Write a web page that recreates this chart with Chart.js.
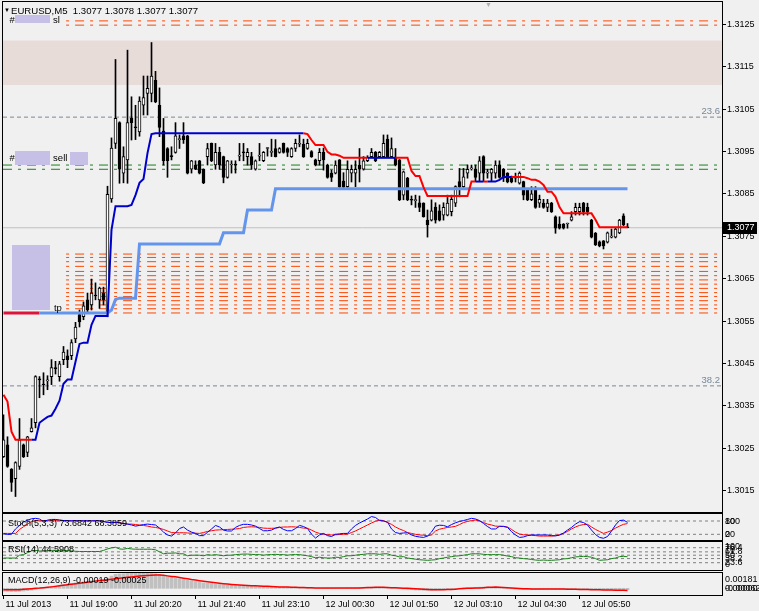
<!DOCTYPE html>
<html>
<head>
<meta charset="utf-8">
<title>EURUSD,M5</title>
<script src="https://cdn.jsdelivr.net/npm/chart.js@4.4.1/dist/chart.umd.min.js"></script>
<style>
  html, body { margin:0; padding:0; background:#f0f0f0; }
  #wrap { position:relative; width:759px; height:611px; overflow:hidden; background:#f0f0f0; }
  #wrap canvas { position:absolute; left:0; }
</style>
</head>
<body>
<div id="wrap">
  <canvas id="cMain" width="759" height="513" style="top:0px"></canvas>
  <canvas id="cStoch" width="759" height="28" style="top:513px"></canvas>
  <canvas id="cRsi" width="759" height="30" style="top:541px"></canvas>
  <canvas id="cMacd" width="759" height="40" style="top:571px"></canvas>
</div>
<script>
// ---------------- DATA ----------------
const symbol = 'EURUSD', timeframe = 'M5';
const timeLabels = ['11 Jul 2013','11 Jul 19:00','11 Jul 20:20','11 Jul 21:40','11 Jul 23:10','12 Jul 00:30','12 Jul 01:50','12 Jul 03:10','12 Jul 04:30','12 Jul 05:50'];
const timeTickBars = [0,16,32,48,64,80,96,112,128,144];
const priceTicks = [1.3015,1.3025,1.3035,1.3045,1.3055,1.3065,1.3075,1.3085,1.3095,1.3105,1.3115,1.3125];

const open = [1.30230,1.30258,1.30200,1.30178,1.30207,1.30258,1.30240,1.30289,1.30310,1.30412,
1.30400,1.30409,1.30419,1.30440,1.30419,1.30459,1.30468,1.30468,1.30508,1.30565,
1.30560,1.30600,1.30588,1.30610,1.30600,1.30616,1.30569,1.30838,1.30969,1.31018,
1.30899,1.30930,1.31028,1.31007,1.30996,1.31059,1.31087,1.31087,1.31118,1.31059,
1.30998,1.30957,1.30939,1.30948,1.30978,1.30987,1.30987,1.30908,1.30918,1.30928,
1.30908,1.30938,1.30969,1.30918,1.30948,1.30938,1.30889,1.30918,1.30919,1.30939,
1.30948,1.30938,1.30938,1.30908,1.30939,1.30928,1.30957,1.30948,1.30957,1.30948,
1.30969,1.30957,1.30938,1.30957,1.30967,1.30967,1.30957,1.30950,1.30930,1.30928,
1.30948,1.30918,1.30899,1.30899,1.30930,1.30880,1.30867,1.30899,1.30899,1.30918,
1.30908,1.30928,1.30938,1.30948,1.30938,1.30938,1.30979,1.30938,1.30937,1.30930,
1.30847,1.30887,1.30836,1.30834,1.30829,1.30828,1.30788,1.30788,1.30819,1.30810,
1.30800,1.30800,1.30808,1.30828,1.30879,1.30867,1.30899,1.30909,1.30908,1.30899,
1.30938,1.30899,1.30899,1.30899,1.30918,1.30908,1.30899,1.30890,1.30887,1.30875,
1.30879,1.30859,1.30836,1.30859,1.30828,1.30828,1.30818,1.30828,1.30796,1.30779,
1.30779,1.30779,1.30788,1.30808,1.30808,1.30828,1.30818,1.30788,1.30757,1.30737,
1.30739,1.30736,1.30748,1.30748,1.30758,1.30798,1.30770];
const high = [1.30329,1.30277,1.30202,1.30218,1.30320,1.30260,1.30278,1.30320,1.30421,1.30419,
1.30428,1.30421,1.30459,1.30455,1.30455,1.30490,1.30482,1.30506,1.30547,1.30576,
1.30595,1.30616,1.30649,1.30640,1.30630,1.30630,1.30868,1.30982,1.31167,1.31020,
1.30961,1.31189,1.31079,1.31059,1.31079,1.31128,1.31128,1.31207,1.31139,1.31100,
1.31028,1.30959,1.30961,1.31018,1.30989,1.31018,1.30988,1.30929,1.30928,1.30929,
1.30909,1.30969,1.30970,1.30969,1.30960,1.30939,1.30929,1.30928,1.30928,1.30969,
1.30969,1.30957,1.30948,1.30930,1.30969,1.30950,1.30959,1.30979,1.30978,1.30959,
1.30970,1.30959,1.30959,1.30979,1.30989,1.30979,1.30979,1.30952,1.30932,1.30957,
1.30958,1.30920,1.30906,1.30928,1.30931,1.30900,1.30928,1.30918,1.30928,1.30957,
1.30938,1.30940,1.30957,1.30950,1.30950,1.30989,1.30989,1.30982,1.30957,1.30931,
1.30904,1.30889,1.30845,1.30847,1.30845,1.30829,1.30812,1.30836,1.30829,1.30824,
1.30829,1.30847,1.30847,1.30869,1.30910,1.30910,1.30918,1.30918,1.30918,1.30938,
1.30940,1.30908,1.30910,1.30928,1.30928,1.30910,1.30900,1.30892,1.30899,1.30902,
1.30880,1.30860,1.30867,1.30867,1.30847,1.30837,1.30837,1.30830,1.30798,1.30796,
1.30780,1.30781,1.30808,1.30828,1.30828,1.30830,1.30828,1.30790,1.30759,1.30739,
1.30740,1.30760,1.30767,1.30769,1.30790,1.30803,1.30780];
const low = [1.30228,1.30205,1.30148,1.30136,1.30200,1.30228,1.30230,1.30288,1.30298,1.30369,
1.30376,1.30388,1.30400,1.30425,1.30408,1.30447,1.30440,1.30459,1.30499,1.30536,
1.30553,1.30569,1.30576,1.30600,1.30580,1.30588,1.30560,1.30830,1.30957,1.30875,
1.30876,1.30875,1.30977,1.30978,1.30986,1.31036,1.31036,1.31067,1.31065,1.30985,
1.30918,1.30889,1.30930,1.30946,1.30957,1.30969,1.30897,1.30899,1.30907,1.30897,
1.30874,1.30918,1.30926,1.30908,1.30908,1.30876,1.30887,1.30899,1.30899,1.30928,
1.30928,1.30918,1.30908,1.30906,1.30928,1.30926,1.30939,1.30938,1.30937,1.30946,
1.30946,1.30938,1.30936,1.30950,1.30961,1.30936,1.30955,1.30936,1.30916,1.30918,
1.30906,1.30887,1.30879,1.30897,1.30865,1.30863,1.30865,1.30878,1.30867,1.30878,
1.30906,1.30926,1.30936,1.30926,1.30936,1.30936,1.30936,1.30936,1.30916,1.30834,
1.30836,1.30834,1.30824,1.30818,1.30808,1.30795,1.30748,1.30786,1.30781,1.30786,
1.30788,1.30798,1.30798,1.30820,1.30843,1.30865,1.30887,1.30906,1.30879,1.30879,
1.30879,1.30887,1.30879,1.30887,1.30887,1.30879,1.30876,1.30876,1.30878,1.30873,
1.30836,1.30834,1.30834,1.30816,1.30818,1.30816,1.30808,1.30806,1.30757,1.30767,
1.30767,1.30769,1.30786,1.30800,1.30800,1.30800,1.30800,1.30746,1.30728,1.30725,
1.30720,1.30734,1.30746,1.30746,1.30756,1.30775,1.30770];
const close = [1.30270,1.30207,1.30169,1.30216,1.30270,1.30230,1.30277,1.30298,1.30419,1.30411,
1.30399,1.30410,1.30440,1.30437,1.30449,1.30477,1.30459,1.30499,1.30536,1.30548,
1.30586,1.30576,1.30616,1.30609,1.30628,1.30600,1.30849,1.30958,1.31028,1.30908,
1.30938,1.31018,1.31018,1.31006,1.31069,1.31077,1.31099,1.31128,1.31067,1.31007,
1.30928,1.30928,1.30938,1.30987,1.30979,1.30978,1.30899,1.30928,1.30908,1.30899,
1.30876,1.30957,1.30928,1.30948,1.30918,1.30889,1.30928,1.30919,1.30918,1.30940,
1.30947,1.30948,1.30918,1.30928,1.30940,1.30948,1.30958,1.30949,1.30938,1.30957,
1.30948,1.30948,1.30957,1.30969,1.30968,1.30938,1.30969,1.30938,1.30918,1.30948,
1.30930,1.30889,1.30889,1.30918,1.30867,1.30866,1.30908,1.30908,1.30908,1.30908,
1.30928,1.30936,1.30948,1.30928,1.30948,1.30969,1.30938,1.30957,1.30918,1.30836,
1.30902,1.30836,1.30835,1.30835,1.30818,1.30796,1.30777,1.30810,1.30788,1.30788,
1.30818,1.30828,1.30837,1.30867,1.30867,1.30890,1.30908,1.30910,1.30889,1.30928,
1.30899,1.30900,1.30908,1.30918,1.30889,1.30887,1.30878,1.30878,1.30888,1.30899,
1.30847,1.30836,1.30850,1.30818,1.30837,1.30818,1.30828,1.30808,1.30769,1.30769,
1.30769,1.30780,1.30796,1.30818,1.30818,1.30808,1.30808,1.30748,1.30730,1.30727,
1.30727,1.30758,1.30749,1.30767,1.30788,1.30777,1.30770];

// trailing stop line and its direction (+1 up/blue, -1 down/red)
const trail = [1.30376,1.30360,1.30289,1.30270,1.30270,1.30270,1.30270,1.30270,1.30270,1.30310,
1.30317,1.30324,1.30327,1.30343,1.30362,1.30402,1.30412,1.30412,1.30454,1.30496,
1.30499,1.30499,1.30541,1.30562,1.30562,1.30562,1.30562,1.30765,1.30821,1.30821,
1.30821,1.30821,1.30824,1.30847,1.30876,1.30885,1.30946,1.30991,1.30993,1.30993,
1.30993,1.30993,1.30993,1.30993,1.30993,1.30993,1.30993,1.30993,1.30993,1.30993,
1.30993,1.30993,1.30993,1.30993,1.30993,1.30993,1.30993,1.30993,1.30993,1.30993,
1.30993,1.30993,1.30993,1.30993,1.30993,1.30993,1.30993,1.30993,1.30993,1.30993,
1.30993,1.30993,1.30993,1.30993,1.30993,1.30993,1.30991,1.30977,1.30965,1.30965,
1.30965,1.30949,1.30943,1.30943,1.30940,1.30935,1.30935,1.30935,1.30935,1.30935,
1.30935,1.30935,1.30935,1.30935,1.30935,1.30935,1.30935,1.30935,1.30935,1.30935,
1.30935,1.30935,1.30904,1.30892,1.30892,1.30866,1.30845,1.30845,1.30845,1.30845,
1.30845,1.30845,1.30845,1.30845,1.30845,1.30845,1.30845,1.30879,1.30879,1.30879,
1.30879,1.30879,1.30879,1.30879,1.30883,1.30890,1.30890,1.30890,1.30890,1.30890,
1.30890,1.30887,1.30883,1.30883,1.30879,1.30871,1.30855,1.30855,1.30843,1.30819,
1.30804,1.30804,1.30804,1.30804,1.30804,1.30804,1.30804,1.30804,1.30789,1.30771,
1.30771,1.30771,1.30771,1.30771,1.30771,1.30771,1.30771];
const trailDir = [-1,-1,-1,-1,-1,-1,-1,-1,1,1,
1,1,1,1,1,1,1,1,1,1, 1,1,1,1,1,1,1,1,1,1, 1,1,1,1,1,1,1,1,1,1,
1,1,1,1,1,1,1,1,1,1, 1,1,1,1,1,1,1,1,1,1, 1,1,1,1,1,1,1,1,1,1,
1,1,1,1,1,1,-1,-1,-1,-1,
-1,-1,-1,-1,-1,-1,-1,-1,-1,-1,
-1,-1,1,1,1,1,1,1,1,-1,
-1,-1,-1,-1,-1,-1,-1,-1,-1,-1,
-1,-1,-1,-1,-1,-1,-1,-1,-1,1,
1,-1,1,1,1,1,1,1,-1,-1,
-1,-1,-1,-1,-1,-1,-1,-1,-1,-1,
-1,-1,-1,-1,-1,-1,-1,-1,-1,-1,
-1,-1,-1,-1,-1,-1,-1];

// higher timeframe line
const htf = [1.30569,1.30569,1.30569,1.30569,1.30569,1.30569,1.30569,1.30569,1.30569,1.30569,
1.30569,1.30569,1.30569,1.30569,1.30569,1.30569,1.30569,1.30569,1.30569,1.30569,
1.30569,1.30569,1.30569,1.30569,1.30569,1.30569,1.30569,1.30576,1.30601,1.30604,
1.30604,1.30604,1.30604,1.30604,1.30732,1.30732,1.30732,1.30732,1.30732,1.30732,
1.30732,1.30732,1.30732,1.30732,1.30732,1.30732,1.30732,1.30732,1.30732,1.30732,
1.30732,1.30732,1.30732,1.30732,1.30732,1.30758,1.30758,1.30758,1.30758,1.30758,
1.30758,1.30812,1.30812,1.30812,1.30812,1.30812,1.30812,1.30812,1.30862,1.30862,
1.30862,1.30862,1.30862,1.30862,1.30862,1.30862,1.30862,1.30862,1.30862,1.30862,
1.30862,1.30862,1.30862,1.30862,1.30862,1.30862,1.30862,1.30862,1.30862,1.30862,
1.30862,1.30862,1.30862,1.30862,1.30862,1.30862,1.30862,1.30862,1.30862,1.30862,
1.30862,1.30862,1.30862,1.30862,1.30862,1.30862,1.30862,1.30862,1.30862,1.30862,
1.30862,1.30862,1.30862,1.30862,1.30862,1.30862,1.30862,1.30862,1.30862,1.30862,
1.30862,1.30862,1.30862,1.30862,1.30862,1.30862,1.30862,1.30862,1.30862,1.30862,
1.30862,1.30862,1.30862,1.30862,1.30862,1.30862,1.30862,1.30862,1.30862,1.30862,
1.30862,1.30862,1.30862,1.30862,1.30862,1.30862,1.30862,1.30862,1.30862,1.30862,
1.30862,1.30862,1.30862,1.30862,1.30862,1.30862,1.30862];
const htfCrimsonUntilBar = 9;

// horizontal levels
const slLevels = [1.31258, 1.31248];
const zoneLow = 1.31107, zoneHigh = 1.31212;
const entryLevels = [1.30918, 1.30908];
const tpLevels = [1.30708,1.30700,1.30690,1.30679,1.30667,1.30657,1.30647,1.30637,1.30627,1.30617,1.30608,1.30598,1.30588,1.30579,1.30569];
const fibLevels = [1.31031, 1.30397];
const fibLabels = ['23.6', '38.2'];
const levelStartBar = 14.9;

// Stochastic (5,3,3)
const stochK = [24,19,21,44,60,75,84,90,92,89,
77,84,87,87,85,82,81,81,81,81,
81,81,81,81,81,78,73,73,75,71,
68,66,62,57,60,64,66,64,62,48,
30,17,12,26,46,53,39,30,24,14,
14,29,44,60,53,39,35,35,51,60,
65,65,62,57,46,36,36,39,48,53,
42,36,36,46,60,55,46,21,3,17,
24,14,10,20,22,24,24,44,60,71,
80,89,100,96,82,80,75,44,28,24,
26,27,17,11,8,6,12,30,57,61,
60,54,64,72,78,82,87,92,89,82,
69,55,44,44,56,56,51,32,17,6,
8,14,17,17,17,17,17,14,13,16,
26,39,51,66,77,73,62,39,19,6,
2,10,35,62,82,84,73.6842];
const stochD = [24,24,24,24,42,54,66,78,81,81,
81,81,81,81,81,81,81,81,81,81,
81,81,81,81,81,78,75,73,73,73,
69,66,66,64,62,60,57,53,51,47,
42,35,28,27,27,27,26,25,25,24,
28,33,36,39,40,41,42,43,44,46,
51,53,54,53,51,48,47,47,48,51,
53,53,54,53,51,48,47,39,30,24,
21,18,17,18,19,20,21,28,35,44,
53,62,71,79,84,82,73,65,53,44,
37,28,24,20,17,16,13,17,35,43,
47,51,53,56,64,73,78,82,84,80,
73,66,62,57,56,55,53,42,30,21,
18,17,16,14,12,12,12,12,14,19,
24,33,44,53,60,64,65,53,42,33,
24,30,37,48,57,65,68.3859];
const stochLevels = [80, 20];
const stochAxis = [{v:80,t:'80'},{v:100,t:'100'},{v:20,t:'20'},{v:0,t:'0'}];

// RSI(14)
const rsi = [40,40,40,40,50,52,59,65,67,65,
64,65,67,67,67,67,66,65,64,63,
63,63,63,63,63,67,72,76,78,72,
71,74,72,71,71,71,71,71,69,62,
55,57,57,58,55,55,48,50,50,50,
48,52,50,52,50,48,50,50,52,53,
54,54,53,52,52,50,52,52,53,52,
52,50,52,52,52,50,48,45,41,43,
41,40,40,43,42,45,48,48,50,52,
53,55,55,55,53,55,55,50,48,44,
45,40,38,36,34,33,32,33,34,38,
40,43,45,47,48,50,52,55,55,55,
53,52,52,52,52,50,47,45,41,40,
38,37,35,33,32,33,32,32,33,34,
37,38,41,44,45,46,45,43,38,32,
33,34,38,40,45,46,44.5908];
const rsiLevels = [76.4, 61.8, 50, 38.2, 23.6];
const rsiAxis = [{v:100,t:'100'},{v:76.4,t:'76.4'},{v:70,t:'70'},{v:61.8,t:'61.8'},{v:50,t:'50'},{v:38.2,t:'38.2'},{v:23.6,t:'23.6'},{v:0,t:'0'}];

// MACD(12,26,9)
const macdMain = [-0.00034,-0.00036,-0.00038,-0.00038,-0.00036,-0.00032,-0.00028,-0.00022,-0.00012,-0.00004,
0.00004,0.00012,0.00020,0.00028,0.00036,0.00044,0.00052,0.00058,0.00064,0.00070,
0.00078,0.00084,0.00090,0.00096,0.00100,0.00102,0.00120,0.00145,0.00165,0.00170,
0.00172,0.00176,0.00178,0.00180,0.00181,0.00180,0.00178,0.00176,0.00172,0.00165,
0.00150,0.00138,0.00128,0.00120,0.00112,0.00104,0.00095,0.00088,0.00080,0.00072,
0.00064,0.00060,0.00056,0.00050,0.00046,0.00042,0.00038,0.00036,0.00034,0.00032,
0.00030,0.00028,0.00026,0.00024,0.00022,0.00020,0.00018,0.00017,0.00016,0.00015,
0.00014,0.00013,0.00012,0.00011,0.00010,0.00008,0.00006,0.00003,0.00000,-0.00002,
-0.00003,-0.00004,-0.00004,-0.00003,-0.00002,0.00000,0.00002,0.00004,0.00006,0.00008,
0.00010,0.00012,0.00014,0.00014,0.00013,0.00012,0.00010,0.00006,0.00002,-0.00004,
-0.00008,-0.00012,-0.00016,-0.00020,-0.00022,-0.00024,-0.00024,-0.00022,-0.00020,-0.00018,
-0.00015,-0.00010,-0.00006,-0.00002,0.00002,0.00006,0.00008,0.00010,0.00012,0.00014,
0.00015,0.00014,0.00012,0.00010,0.00006,0.00002,-0.00002,-0.00006,-0.00010,-0.00012,
-0.00014,-0.00015,-0.00015,-0.00014,-0.00013,-0.00012,-0.00012,-0.00012,-0.00013,-0.00014,
-0.00015,-0.00015,-0.00014,-0.00013,-0.00012,-0.00012,-0.00013,-0.00014,-0.00016,-0.00018,
-0.00019,-0.00020,-0.00020,-0.00020,-0.00019,-0.00019,-0.00019];
const macdSignal = [-0.00016,-0.00016,-0.00016,-0.00016,-0.00016,-0.00012,-0.00008,-0.00004,0.00000,0.00003,
0.00008,0.00012,0.00017,0.00023,0.00030,0.00035,0.00041,0.00047,0.00054,0.00061,
0.00067,0.00073,0.00079,0.00085,0.00091,0.00096,0.00102,0.00108,0.00113,0.00119,
0.00124,0.00130,0.00135,0.00141,0.00146,0.00149,0.00151,0.00154,0.00156,0.00157,
0.00154,0.00147,0.00141,0.00136,0.00128,0.00120,0.00112,0.00103,0.00097,0.00090,
0.00084,0.00077,0.00071,0.00066,0.00061,0.00055,0.00050,0.00045,0.00041,0.00038,
0.00035,0.00033,0.00031,0.00029,0.00027,0.00025,0.00023,0.00021,0.00019,0.00017,
0.00016,0.00015,0.00013,0.00012,0.00010,0.00009,0.00008,0.00006,0.00005,0.00004,
0.00003,0.00003,0.00003,0.00003,0.00003,0.00003,0.00003,0.00003,0.00003,0.00005,
0.00007,0.00009,0.00011,0.00012,0.00012,0.00012,0.00010,0.00008,0.00006,0.00004,
0.00002,0.00000,-0.00003,-0.00006,-0.00009,-0.00012,-0.00014,-0.00016,-0.00016,-0.00016,
-0.00016,-0.00015,-0.00013,-0.00010,-0.00006,-0.00003,0.00000,0.00002,0.00003,0.00005,
0.00008,0.00012,0.00014,0.00015,0.00013,0.00010,0.00006,0.00003,0.00000,-0.00002,
-0.00004,-0.00006,-0.00007,-0.00008,-0.00008,-0.00008,-0.00008,-0.00008,-0.00008,-0.00008,
-0.00009,-0.00010,-0.00011,-0.00012,-0.00013,-0.00014,-0.00015,-0.00016,-0.00017,-0.00018,
-0.00019,-0.00020,-0.00021,-0.00022,-0.00023,-0.00024,-0.00025];
const macdAxis = [{v:0.00181,t:'0.00181'},{v:0,t:'0.00000'},{v:-0.00062,t:'-0.00062'}];

// label marks (redacted object names)
const blobs = [
  {b0:2.9, b1:11.6, p0:1.31271, p1:1.31251},
  {b0:2.9, b1:11.6, p0:1.30950, p1:1.30917},
  {b0:16.6, b1:21.1, p0:1.30948, p1:1.30918},
  {b0:2.05, b1:11.6, p0:1.30730, p1:1.30576}
];
const textMarks = [
  {t:'#', b:1.5, p:1.31260}, {t:'sl', b:12.4, p:1.31260},
  {t:'#', b:1.5, p:1.30933}, {t:'sell', b:12.4, p:1.30933},
  {t:'tp', b:12.6, p:1.30580}
];

// ---------------- STYLE / LAYOUT ----------------
const FONT = "'Liberation Sans', Arial, Helvetica, sans-serif";
const font = s => s + 'px ' + FONT;
const X_MIN = -0.125, X_MAX = 179.625;
const PRICE_MIN = 1.300995, PRICE_MAX = 1.313026;
const RED = '#ff0000', BLUE = '#0000cd', CORN = '#6495ed', CRIMSON = '#dc143c';
const ORANGE = '#ff4500', GREEN = '#1a7f1a', SLATE = '#778899';
const DASHDOT = [9, 6, 3, 6];

Chart.defaults.font.family = FONT;
Chart.defaults.font.size = 9;
Chart.defaults.color = '#000';
Chart.defaults.animation = false;
Chart.defaults.events = [];
Chart.defaults.plugins.legend.display = false;
Chart.defaults.plugins.tooltip.enabled = false;

const lastIdx = close.length - 1;
const XY = arr => arr.map((v, i) => ({x: i, y: v}));
const H = (v, x0 = X_MIN) => [{x: x0, y: v}, {x: X_MAX, y: v}];
const hline = (data, color, dash, dashOffset, order, width = 1) => ({
  type: 'line', data, borderColor: color, borderWidth: width, borderDash: dash || [],
  borderDashOffset: dashOffset || 0, pointRadius: 0, order, fill: false
});

function xScale(show) {
  const s = {
    type: 'linear', min: X_MIN, max: X_MAX, offset: false, display: show,
    grid: {display: show, drawOnChartArea: false, tickLength: 4, color: '#000', offset: false},
    border: {display: false},
    afterBuildTicks: sc => { sc.ticks = timeTickBars.map(v => ({value: v})); },
    ticks: {autoSkip: false, maxRotation: 0, minRotation: 0, align: 'start', labelOffset: 2, padding: 0,
      font: {size: 9}, color: '#000', callback: (v, i) => timeLabels[i]}
  };
  if (show) s.afterFit = sc => { sc.height = 16; sc.paddingLeft = 0; sc.paddingRight = 0; };
  return s;
}

const framePlugin = {
  id: 'frame',
  afterDraw(chart) {
    const {ctx, chartArea: a} = chart;
    ctx.save();
    ctx.strokeStyle = '#000'; ctx.lineWidth = 1;
    ctx.strokeRect(a.left - 0.5, a.top - 0.5, a.right - a.left + 1, a.bottom - a.top + 1);
    ctx.restore();
  }
};

const mainOverlay = {
  id: 'mainOverlay',
  afterDatasetsDraw(chart) {
    const {ctx, chartArea: a, scales: {x, y}} = chart;
    ctx.save();
    ctx.fillStyle = '#c6c0e6';
    for (const b of blobs) {
      const x0 = x.getPixelForValue(b.b0), x1 = x.getPixelForValue(b.b1);
      const y0 = y.getPixelForValue(b.p0), y1 = y.getPixelForValue(b.p1);
      ctx.fillRect(Math.round(x0), Math.round(y0), Math.round(x1 - x0), Math.round(y1 - y0));
    }
    ctx.font = font(9.5); ctx.fillStyle = '#000'; ctx.textBaseline = 'middle'; ctx.textAlign = 'left';
    for (const m of textMarks) ctx.fillText(m.t, x.getPixelForValue(m.b), y.getPixelForValue(m.p));
    ctx.fillStyle = SLATE; ctx.textAlign = 'right'; ctx.font = font(9.5);
    fibLevels.forEach((v, i) => ctx.fillText(fibLabels[i], a.right - 2, y.getPixelForValue(v) - 6));
    ctx.restore();
  },
  afterDraw(chart) {
    const {ctx, chartArea: a, scales: {y}} = chart;
    ctx.save();
    ctx.textBaseline = 'middle'; ctx.textAlign = 'left'; ctx.fillStyle = '#000';
    ctx.font = font(6); ctx.fillText('\u25BC', 4, 10);
    ctx.font = font(9.6);
    const fx = v => v.toFixed(4);
    ctx.fillText(`${symbol},${timeframe}  ${fx(open[lastIdx])} ${fx(high[lastIdx])} ${fx(low[lastIdx])} ${fx(close[lastIdx])}`, 11, 11);
    ctx.fillStyle = '#b0b0b0'; ctx.font = font(7); ctx.fillText('\u25BC', 485, 5);
    const yp = Math.round(y.getPixelForValue(close[lastIdx]));
    ctx.fillStyle = '#000';
    ctx.fillRect(a.right + 1, yp - 6, 34, 12);
    ctx.fillStyle = '#fff'; ctx.font = font(9);
    ctx.fillText(close[lastIdx].toFixed(4), a.right + 5, yp);
    ctx.restore();
  }
};

const panelPlugin = {
  id: 'panel',
  afterDraw(chart, args, o) {
    if (!o || !o.title) return;
    const {ctx, chartArea: a, scales: {y}} = chart;
    ctx.save();
    ctx.font = font(9); ctx.fillStyle = '#000'; ctx.textBaseline = 'middle'; ctx.textAlign = 'left';
    ctx.fillText(o.title, a.left + 5, a.top + o.titleDy);
    for (const s of o.side) {
      let py = y.getPixelForValue(s.v);
      py = Math.min(Math.max(py, a.top + o.padTop), a.bottom - o.padBottom);
      ctx.fillText(s.t, a.right + 3, py);
    }
    ctx.restore();
  }
};

// ---------------- MAIN CHART ----------------
const bars = close.map((_, i) => i);
const mainDatasets = [
  {type: 'line', data: XY(trail), borderColor: RED, borderWidth: 2, pointRadius: 0, order: 1,
    segment: {borderColor: c => trailDir[c.p1DataIndex] > 0 ? BLUE : RED}},
  {type: 'line', data: XY(htf), borderColor: CORN, borderWidth: 3, pointRadius: 0, order: 2,
    segment: {borderColor: c => c.p1DataIndex <= htfCrimsonUntilBar ? CRIMSON : CORN}},
  {type: 'bar', data: bars.map(i => ({x: i, y: [open[i], close[i]]})),
    backgroundColor: bars.map(i => close[i] > open[i] ? '#ffffff' : '#000000'),
    borderColor: '#000', borderWidth: 1, borderSkipped: false, barThickness: 3, minBarLength: 1,
    grouped: false, order: 3},
  {type: 'bar', data: bars.map(i => ({x: i, y: [low[i], high[i]]})),
    backgroundColor: '#000', borderWidth: 0, barThickness: 1, grouped: false, order: 4},
];
tpLevels.forEach(v => mainDatasets.push(hline(H(v, levelStartBar), ORANGE, DASHDOT, 12, 5)));
slLevels.forEach(v => mainDatasets.push(hline(H(v, levelStartBar), ORANGE, DASHDOT, 12, 5)));
entryLevels.forEach(v => mainDatasets.push(hline(H(v), GREEN, DASHDOT, 0, 5)));
fibLevels.forEach(v => mainDatasets.push(hline(H(v), SLATE, [4, 3], 0, 5)));
mainDatasets.push(hline(H(close[lastIdx]), '#c0c0c0', [], 0, 6));
mainDatasets.push({type: 'line', data: H(zoneHigh), borderWidth: 0, pointRadius: 0, order: 7,
  backgroundColor: '#e8dcd8', fill: {target: {value: zoneLow}}});

new Chart(document.getElementById('cMain'), {
  type: 'bar',
  data: {datasets: mainDatasets},
  options: {
    responsive: false,
    layout: {padding: {left: 3, top: 2, right: 0, bottom: 1}},
    scales: {
      x: xScale(false),
      y: {
        position: 'right', min: PRICE_MIN, max: PRICE_MAX,
        afterFit: s => { s.width = 37; s.paddingTop = 0; s.paddingBottom = 0; },
        afterBuildTicks: s => { s.ticks = priceTicks.map(v => ({value: v})); },
        ticks: {autoSkip: false, padding: 1, font: {size: 9}, color: '#000', callback: v => v.toFixed(4)},
        grid: {drawOnChartArea: false, tickLength: 4, color: '#000'},
        border: {display: false}
      }
    }
  },
  plugins: [mainOverlay, framePlugin]
});

// ---------------- SUB PANELS ----------------
function subChart(id, datasets, yMin, yMax, panel, showX, padTop, padBottom) {
  return new Chart(document.getElementById(id), {
    type: 'bar',
    data: {datasets},
    options: {
      responsive: false,
      layout: {padding: {left: 3, top: padTop, right: 37, bottom: padBottom}},
      scales: {x: xScale(showX), y: {display: false, min: yMin, max: yMax}},
      plugins: {panel}
    },
    plugins: [panelPlugin, framePlugin]
  });
}

const lvlDs = levels => levels.map(v => hline(H(v), '#808080', [3, 3], 0, 5));

subChart('cStoch', [
  {type: 'line', data: XY(stochK), borderColor: '#0000ff', borderWidth: 1, pointRadius: 0, order: 1},
  {type: 'line', data: XY(stochD), borderColor: '#ff0000', borderWidth: 1, pointRadius: 0, order: 2},
  ...lvlDs(stochLevels)
], -5.7, 111.6, {title: `Stoch(5,3,3) ${stochK[lastIdx].toFixed(4)} ${stochD[lastIdx].toFixed(4)}`, titleDy: 10, side: stochAxis, padTop: 8, padBottom: 5}, false, 1, 1);

subChart('cRsi', [
  {type: 'line', data: XY(rsi), borderColor: GREEN, borderWidth: 1, pointRadius: 0, order: 1},
  ...lvlDs(rsiLevels)
], -2.1, 96.5, {title: `RSI(14) ${rsi[lastIdx].toFixed(4)}`, titleDy: 8, side: rsiAxis, padTop: 5, padBottom: 5}, false, 1, 1);

subChart('cMacd', [
  {type: 'line', data: XY(macdSignal), borderColor: '#ff0000', borderWidth: 1.5, pointRadius: 0, order: 1},
  {type: 'bar', data: XY(macdMain), backgroundColor: '#c0c0c0', borderWidth: 0, barThickness: 3, grouped: false, order: 2}
], -0.00079, 0.00181, {title: `MACD(12,26,9) ${macdMain[lastIdx].toFixed(5)} ${macdSignal[lastIdx].toFixed(5)}`, titleDy: 8, side: macdAxis, padTop: 7, padBottom: 6}, true, 2, 0);
</script>
</body>
</html>
